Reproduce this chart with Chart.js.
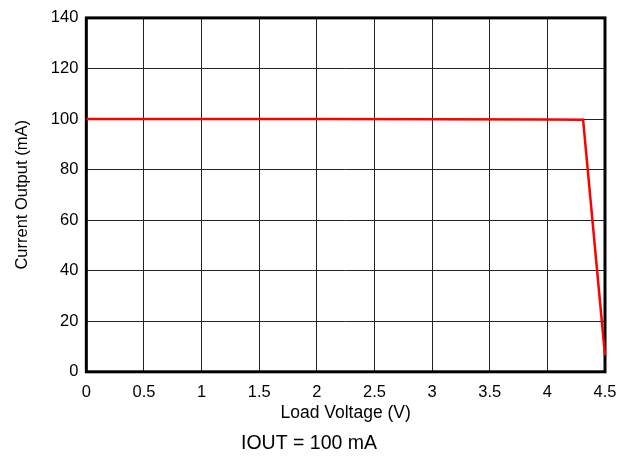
<!DOCTYPE html>
<html>
<head>
<meta charset="utf-8">
<script src="https://cdn.jsdelivr.net/npm/chart.js@4/dist/chart.umd.min.js"></script>
<style>
  body { margin: 0; background: #fff; }
  #wrap { width: 631px; height: 460px; }
</style>
</head>
<body>
<div id="wrap"><canvas id="myChart" width="631" height="460"></canvas></div>
<script>
// values
var loadVoltage = [0, 1, 2, 3, 4, 4.31, 4.5];
var currentOut = [100, 100, 100, 99.9, 99.8, 99.7, 6.5];
var xTicks = [0, 0.5, 1, 1.5, 2, 2.5, 3, 3.5, 4, 4.5];
var yTicks = [0, 20, 40, 60, 80, 100, 120, 140];

var points = [];
for (var i = 0; i < loadVoltage.length; i++) {
    points.push({x: loadVoltage[i], y: currentOut[i]});
}

// thick black box round the plot, under the red trace
var frame = {
    id: 'frame',
    beforeDatasetsDraw: function(chart) {
        var a = chart.chartArea, c = chart.ctx;
        c.save();
        c.strokeStyle = '#000';
        c.lineWidth = 3;
        c.strokeRect(a.left, a.top, a.right - a.left, a.bottom - a.top);
        c.restore();
    }
};

var fam = 'Liberation Sans, Arial, sans-serif';
var tickFont = {family: fam, size: 16.5};
var titleFont = {family: fam, size: 17.5};
var ctx = document.getElementById('myChart').getContext('2d');
var chart = new Chart(ctx, {
    type: 'line',
    data: {
        datasets: [{
            data: points,
            borderColor: '#ff0000',
            borderWidth: 2.5,
            pointRadius: 0,
            tension: 0,
            clip: 4
        }]
    },
    options: {
        responsive: false,
        animation: false,
        layout: {padding: {left: 13, right: 26, top: 10, bottom: 0}},
        plugins: {
            legend: {display: false},
            tooltip: {enabled: false},
            title: {
                display: true,
                position: 'bottom',
                text: 'IOUT = 100 mA',
                color: '#000',
                font: {family: fam, size: 19.5, weight: 'normal'},
                padding: {top: 8, bottom: 5}
            }
        },
        scales: {
            x: {
                type: 'linear',
                min: 0, max: 4.5,
                afterBuildTicks: function(s) { s.ticks = xTicks.map(function(v) { return {value: v}; }); },
                ticks: {color: '#000', font: tickFont, padding: 11, maxRotation: 0,
                        callback: function(v) { return String(v); }},
                grid: {color: '#222', lineWidth: 1, drawTicks: false},
                border: {display: false},
                title: {display: true, text: 'Load Voltage (V)', color: '#000', font: titleFont, padding: {top: -11, bottom: 0}}
            },
            y: {
                min: 0, max: 140,
                afterBuildTicks: function(s) { s.ticks = yTicks.map(function(v) { return {value: v}; }); },
                ticks: {color: '#000', font: tickFont, padding: 8,
                        callback: function(v) { return String(v); }},
                grid: {color: '#222', lineWidth: 1, drawTicks: false},
                border: {display: false},
                title: {display: true, text: 'Current Output (mA)', color: '#000', font: tickFont, padding: {top: 0, bottom: 10}}
            }
        }
    },
    plugins: [frame]
});
</script>
</body>
</html>
